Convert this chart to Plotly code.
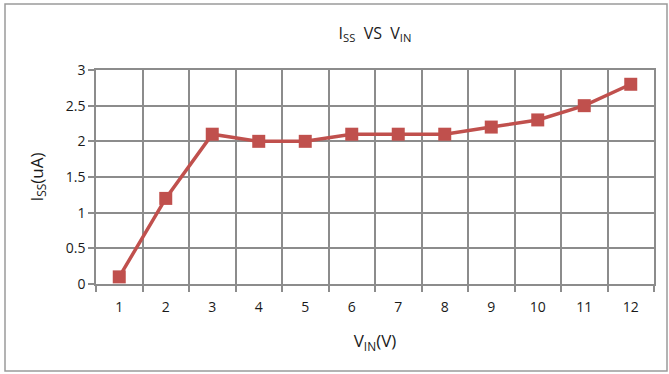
import plotly.graph_objects as go

# Supply current vs. input voltage
vin_labels = ["1", "2", "3", "4", "5", "6", "7", "8", "9", "10", "11", "12"]
vin = [1, 2, 3, 4, 5, 6, 7, 8, 9, 10, 11, 12]
iss = [0.1, 1.2, 2.1, 2.0, 2.0, 2.1, 2.1, 2.1, 2.2, 2.3, 2.5, 2.8]

W, H = 669, 374
L, R, T, B = 96, 15, 70, 90
pw, ph = W - L - R, H - T - B

def px_x(p):
    return (p - L) / pw

def px_y(p):
    return (H - B - p) / ph

font = "Open Sans, Liberation Sans, sans-serif"
grid = "#8c8c8c"
red = "#C0504D"
txt = "#1a1a1a"

fig = go.Figure()
# invisible points keep the grid axis (category boundaries) active
fig.add_trace(go.Scatter(
    x=vin, y=iss, mode="markers", marker=dict(opacity=0),
    xaxis="x2", showlegend=False, hoverinfo="skip",
))
fig.add_trace(go.Scatter(
    x=vin, y=iss, mode="lines+markers",
    line=dict(color=red, width=3.5),
    marker=dict(symbol="square", size=13, color=red),
    xaxis="x", showlegend=False,
))

fig.update_layout(
    width=W, height=H,
    margin=dict(l=L, r=R, t=T, b=B),
    paper_bgcolor="white", plot_bgcolor="white",
    font=dict(family=font, size=14, color=txt),
    title=dict(text="I<sub>SS</sub>  VS  V<sub>IN</sub>", x=0.5, xref="paper",
               y=1 - 33 / H, yanchor="middle",
               font=dict(family=font, size=16, color=txt)),
    xaxis2=dict(range=[0.5, 12.5], overlaying="x", side="bottom",
                tickmode="linear", tick0=0.5, dtick=1,
                showticklabels=False, showgrid=True, gridcolor=grid, gridwidth=1.5,
                ticks="outside", ticklen=6, tickcolor=grid, tickwidth=1.5,
                showline=True, linecolor=grid, linewidth=1.5, mirror=True,
                zeroline=False),
    xaxis=dict(range=[0.5, 12.5],
               tickmode="array", tickvals=vin, ticktext=vin_labels,
               showgrid=False, ticks="", showline=False, zeroline=False,
               tickfont=dict(size=14), ticklabelstandoff=13,
               title=dict(text="V<sub>IN</sub>(V)", font=dict(size=17), standoff=20)),
    yaxis=dict(range=[0, 3], tickmode="linear", tick0=0, dtick=0.5,
               showgrid=True, gridcolor=grid, gridwidth=1.5,
               ticks="outside", ticklen=6, tickcolor=grid, tickwidth=1.5,
               showline=True, linecolor=grid, linewidth=1.5, mirror=True,
               zeroline=False, tickfont=dict(size=14),
               title=dict(text="I<sub>SS</sub>(uA)", font=dict(size=17), standoff=18)),
)

# Chart frame
fig.add_shape(type="rect", xref="paper", yref="paper",
              x0=px_x(5), x1=px_x(667), y0=px_y(371), y1=px_y(4),
              line=dict(color="#9a9a9a", width=1.5), layer="below")

fig.write_html("out.html")
